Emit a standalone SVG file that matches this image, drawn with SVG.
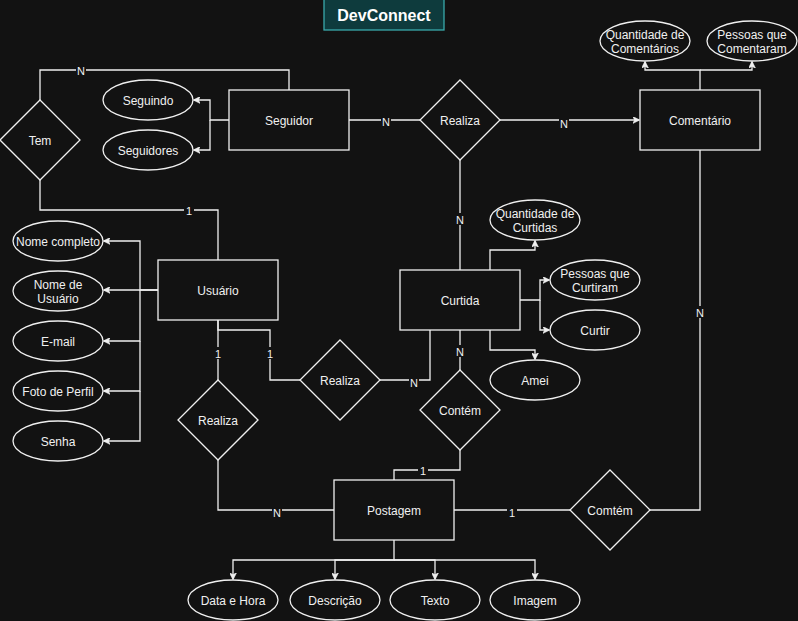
<svg xmlns="http://www.w3.org/2000/svg" width="798" height="621" viewBox="0 0 798 621">
<defs>
<marker id="arr" viewBox="0 0 10 10" refX="9" refY="5" markerWidth="7" markerHeight="7" markerUnits="userSpaceOnUse" orient="auto">
<path d="M0,0 L10,5 L0,10 L3,5 z" fill="#f0f0f0" stroke="#f0f0f0" stroke-width="1"/>
</marker>
<style>
.bg{fill:#121212}
.box{fill:#121212;stroke:#f0f0f0;stroke-width:1.3}
.t{font-family:"Liberation Sans",Arial,sans-serif;font-size:12px;fill:#f0f0f0;text-anchor:middle;dominant-baseline:central;transform:translateY(1px)}
.e{fill:none;stroke:#f0f0f0;stroke-width:1.3}
.ea{fill:none;stroke:#f0f0f0;stroke-width:1.3;marker-end:url(#arr)}
.lb{fill:#121212}
.lt{font-family:"Liberation Sans",Arial,sans-serif;font-size:11px;fill:#f0f0f0;text-anchor:middle;dominant-baseline:central}
.title{font-family:"Liberation Sans",Arial,sans-serif;font-size:16px;font-weight:bold;fill:#ffffff;text-anchor:middle;dominant-baseline:central}
</style>
</defs>
<rect class="bg" x="0" y="0" width="798" height="621"/>

<g id="connectors">
<path class="e" d="M40,100 V70 H289 V90"/>
<path class="e" d="M40,180 V210 H218 V260"/>
<path class="ea" d="M229,120 H210 V100 H194"/>
<path class="ea" d="M210,120 V150 H194"/>
<path class="e" d="M349,120 H420"/>
<path class="ea" d="M500,120 H639"/>
<path class="ea" d="M700,90 V70 H645 V62"/>
<path class="ea" d="M700,70 H752 V62"/>
<path class="e" d="M460,160 V270"/>
<path class="ea" d="M158,290 H104"/>
<path class="ea" d="M158,290 H140 V241 H104"/>
<path class="ea" d="M140,290 V341 H104"/>
<path class="ea" d="M140,341 V391 H104"/>
<path class="ea" d="M140,391 V441 H104"/>
<path class="e" d="M218,320 V380"/>
<path class="e" d="M218,320 V330 H270 V380 H300"/>
<path class="e" d="M380,380 H430 V330"/>
<path class="ea" d="M490,270 V250 H535 V241"/>
<path class="ea" d="M520,300 H540 V280 H549"/>
<path class="ea" d="M540,300 V330 H549"/>
<path class="ea" d="M490,330 V350 H535 V359"/>
<path class="e" d="M460,330 V370"/>
<path class="e" d="M460,450 V470 H394 V480"/>
<path class="e" d="M218,460 V510 H334"/>
<path class="e" d="M454,510 H570"/>
<path class="e" d="M650,510 H700 V150"/>
<path class="ea" d="M394,540 V560 H233 V579"/>
<path class="ea" d="M394,560 H335 V579"/>
<path class="ea" d="M394,560 H435 V579"/>
<path class="ea" d="M394,560 H535 V579"/>
<g id="edge-labels">
<rect class="lb" x="76" y="64" width="10" height="12"/><text class="lt" x="81" y="71">N</text>
<rect class="lb" x="184" y="204" width="10" height="12"/><text class="lt" x="189" y="211">1</text>
<rect class="lb" x="381" y="115" width="10" height="12"/><text class="lt" x="386" y="122">N</text>
<rect class="lb" x="559" y="117" width="10" height="12"/><text class="lt" x="564" y="123.5">N</text>
<rect class="lb" x="455" y="213" width="10" height="12"/><text class="lt" x="460" y="220">N</text>
<rect class="lb" x="213" y="347" width="10" height="12"/><text class="lt" x="218" y="353.5">1</text>
<rect class="lb" x="265" y="347" width="10" height="12"/><text class="lt" x="270" y="353.5">1</text>
<rect class="lb" x="409" y="376" width="10" height="12"/><text class="lt" x="414" y="382.5">N</text>
<rect class="lb" x="455" y="345" width="10" height="12"/><text class="lt" x="460" y="351.5">N</text>
<rect class="lb" x="418" y="464" width="10" height="12"/><text class="lt" x="423" y="470.5">1</text>
<rect class="lb" x="272" y="506" width="10" height="12"/><text class="lt" x="277" y="512.5">N</text>
<rect class="lb" x="507" y="506" width="10" height="12"/><text class="lt" x="512" y="512.5">1</text>
<rect class="lb" x="695" y="306" width="10" height="12"/><text class="lt" x="700" y="312.5">N</text>
</g>
</g>

<g id="title"><rect x="324" y="-1" width="120" height="31" fill="#0e3b3d" stroke="#3aa9ab" stroke-width="1.3"/><text class="title" x="384" y="15.5">DevConnect</text></g>

<g id="tem"><path class="box" d="M40,100 L80,140 L40,180 L0,140 Z"/><text class="t" x="40" y="140">Tem</text></g>
<g id="seguindo"><ellipse class="box" cx="148" cy="100" rx="45" ry="20"/><text class="t" x="148" y="100">Seguindo</text></g>
<g id="seguidores"><ellipse class="box" cx="148" cy="150" rx="45" ry="20"/><text class="t" x="148" y="150">Seguidores</text></g>
<g id="seguidor"><rect class="box" x="229" y="90" width="120" height="60"/><text class="t" x="289" y="120">Seguidor</text></g>
<g id="realiza-top"><path class="box" d="M460,80 L500,120 L460,160 L420,120 Z"/><text class="t" x="460" y="120">Realiza</text></g>
<g id="comentario"><rect class="box" x="640" y="90" width="120" height="60"/><text class="t" x="700" y="120">Comentário</text></g>
<g id="qtd-comentarios"><ellipse class="box" cx="645" cy="41" rx="45" ry="20"/><text class="t" x="645" y="34">Quantidade de</text><text class="t" x="645" y="48">Comentários</text></g>
<g id="pessoas-comentaram"><ellipse class="box" cx="752" cy="41" rx="45" ry="20"/><text class="t" x="752" y="34">Pessoas que</text><text class="t" x="752" y="48">Comentaram</text></g>

<g id="usuario"><rect class="box" x="158" y="260" width="120" height="60"/><text class="t" x="218" y="290">Usuário</text></g>
<g id="nome-completo"><ellipse class="box" cx="58" cy="241" rx="45" ry="20"/><text class="t" x="58" y="241">Nome completo</text></g>
<g id="nome-usuario"><ellipse class="box" cx="58" cy="291" rx="45" ry="20"/><text class="t" x="58" y="284">Nome de</text><text class="t" x="58" y="298">Usuário</text></g>
<g id="email"><ellipse class="box" cx="58" cy="341" rx="45" ry="20"/><text class="t" x="58" y="341">E-mail</text></g>
<g id="foto"><ellipse class="box" cx="58" cy="391" rx="45" ry="20"/><text class="t" x="58" y="391">Foto de Perfil</text></g>
<g id="senha"><ellipse class="box" cx="58" cy="441" rx="45" ry="20"/><text class="t" x="58" y="441">Senha</text></g>

<g id="realiza-postagem"><path class="box" d="M218,380 L258,420 L218,460 L178,420 Z"/><text class="t" x="218" y="420">Realiza</text></g>
<g id="realiza-curtida"><path class="box" d="M340,340 L380,380 L340,420 L300,380 Z"/><text class="t" x="340" y="380">Realiza</text></g>

<g id="curtida"><rect class="box" x="400" y="270" width="120" height="60"/><text class="t" x="460" y="300">Curtida</text></g>
<g id="qtd-curtidas"><ellipse class="box" cx="535" cy="220" rx="45" ry="20"/><text class="t" x="535" y="213">Quantidade de</text><text class="t" x="535" y="227">Curtidas</text></g>
<g id="pessoas-curtiram"><ellipse class="box" cx="595" cy="280" rx="45" ry="20"/><text class="t" x="595" y="273">Pessoas que</text><text class="t" x="595" y="287">Curtiram</text></g>
<g id="curtir"><ellipse class="box" cx="595" cy="330" rx="45" ry="20"/><text class="t" x="595" y="330">Curtir</text></g>
<g id="amei"><ellipse class="box" cx="535" cy="380" rx="45" ry="20"/><text class="t" x="535" y="380">Amei</text></g>
<g id="contem"><path class="box" d="M460,370 L500,410 L460,450 L420,410 Z"/><text class="t" x="460" y="410">Contém</text></g>

<g id="postagem"><rect class="box" x="334" y="480" width="120" height="60"/><text class="t" x="394" y="510">Postagem</text></g>
<g id="comtem"><path class="box" d="M610,470 L650,510 L610,550 L570,510 Z"/><text class="t" x="610" y="510">Comtém</text></g>
<g id="data-hora"><ellipse class="box" cx="233" cy="600" rx="45" ry="20"/><text class="t" x="233" y="600">Data e Hora</text></g>
<g id="descricao"><ellipse class="box" cx="335" cy="600" rx="45" ry="20"/><text class="t" x="335" y="600">Descrição</text></g>
<g id="texto"><ellipse class="box" cx="435" cy="600" rx="45" ry="20"/><text class="t" x="435" y="600">Texto</text></g>
<g id="imagem"><ellipse class="box" cx="535" cy="600" rx="45" ry="20"/><text class="t" x="535" y="600">Imagem</text></g>
</svg>
